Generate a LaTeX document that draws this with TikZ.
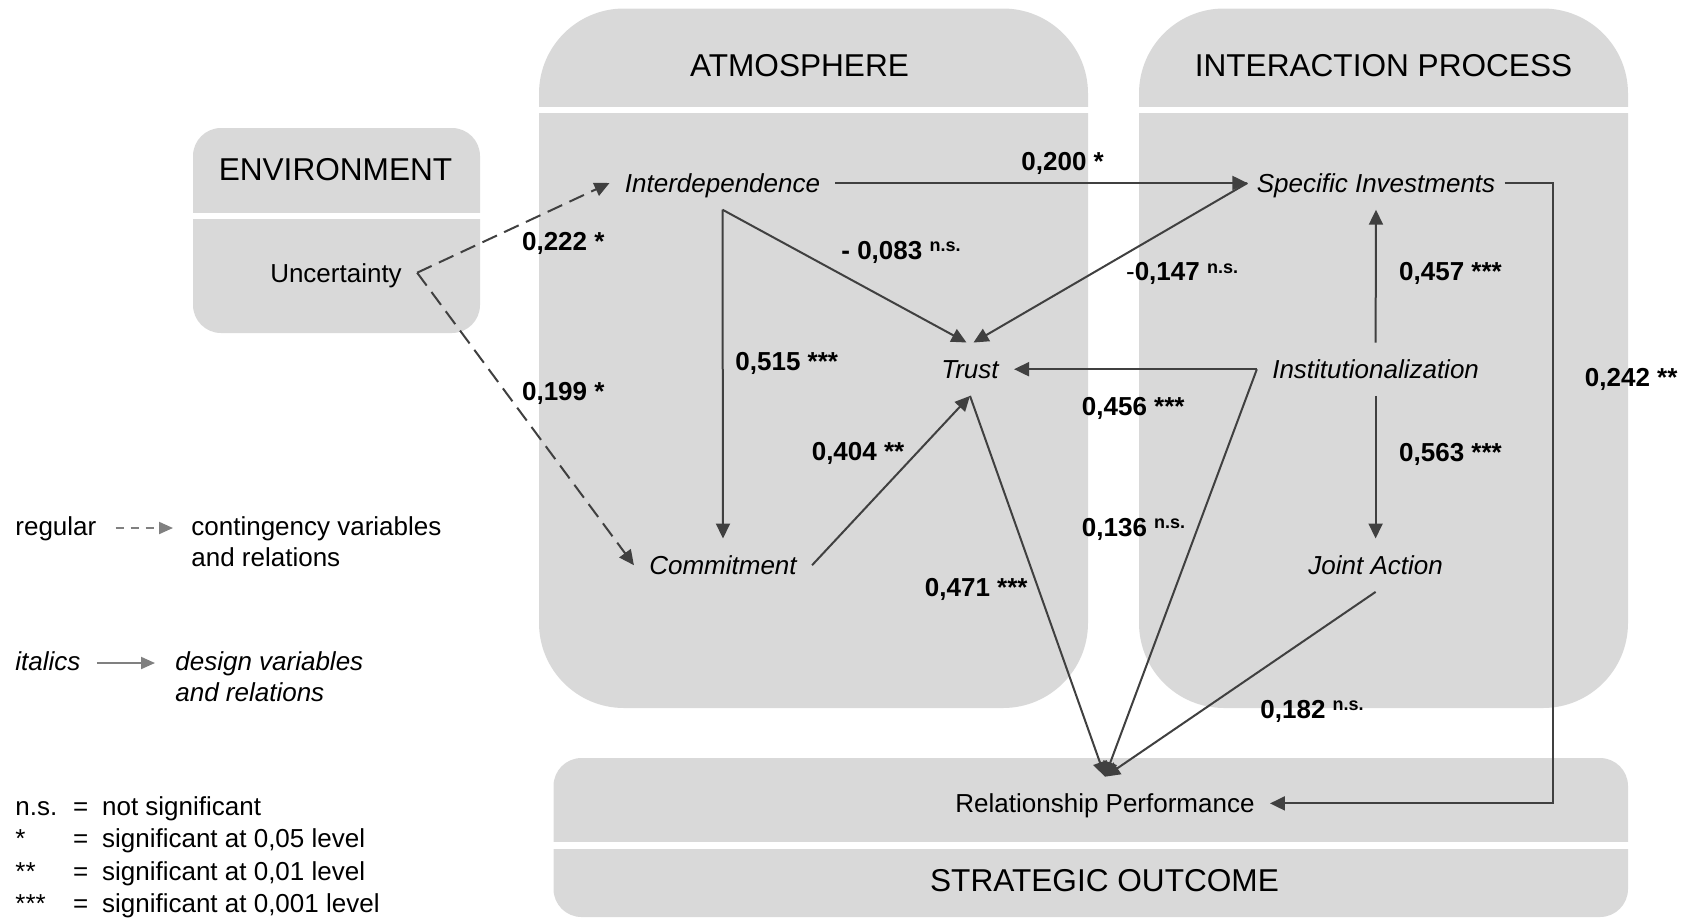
\documentclass[tikz,border=0pt]{standalone}
\usepackage{fontspec}
\usepackage{graphicx}
\setmainfont{Liberation Sans}
\usetikzlibrary{arrows.meta,calc}

\definecolor{panelgray}{RGB}{217,217,217}
\definecolor{linkgray}{RGB}{64,64,64}
\definecolor{keygray}{RGB}{128,128,128}

% raised "n.s." after a path coefficient
\newcommand{\nsig}{\raisebox{3.8pt}{\fontsize{9}{9}\selectfont n.s.}}

\tikzset{
  varnode/.style={font=\itshape\fontsize{13}{15}\selectfont, text height=9.3pt,
    text depth=0pt, inner xsep=7.5pt, inner ysep=8.5pt, anchor=base},
  plainnode/.style={varnode, font=\fontsize{13}{15}\selectfont},
  headtext/.style={font=\fontsize{15.8}{18}\selectfont, inner sep=0pt, anchor=base},
  coef/.style={font=\bfseries\fontsize{13}{15}\selectfont, inner sep=0pt, anchor=base west},
  legendtext/.style={font=\fontsize{13}{15}\selectfont, inner sep=0pt, anchor=base west},
  legendit/.style={legendtext, font=\itshape\fontsize{13}{15}\selectfont},
  relarrow/.style={draw=linkgray, line width=1pt, -{Triangle[length=7.5pt,width=7pt]}},
  contarrow/.style={relarrow, dash pattern=on 8pt off 4pt},
  keysolid/.style={draw=keygray, line width=1pt, -{Triangle[length=7pt,width=6pt]}},
  keydash/.style={keysolid, dash pattern=on 4pt off 3.5pt},
}

\begin{document}
\begin{tikzpicture}[x=0.5pt,y=-0.5pt]
\useasboundingbox (0,0) rectangle (1682,917);

% ---- panels ----
\fill[panelgray, rounded corners=14pt] (193,128) rectangle (480,333);
\fill[white] (188,213) rectangle (485,219);

\fill[panelgray, rounded corners=42.5pt] (539,8.5) rectangle (1088,708);
\fill[white] (535,107.3) rectangle (1092,113.3);

\fill[panelgray, rounded corners=42.5pt] (1139,8.5) rectangle (1628,708);
\fill[white] (1135,107.3) rectangle (1632,113.3);

\fill[panelgray, rounded corners=14pt] (553.5,758) rectangle (1628,917);
\fill[white] (549,842.3) rectangle (1632,849);

% ---- panel headings ----
\node[headtext] (hEnv) at (335.5,180.7) {ENVIRONMENT};
\node[headtext] (hAtm) at (799.5,76) {ATMOSPHERE};
\node[headtext] (hInt) at (1383.5,76) {INTERACTION PROCESS};
\node[headtext] (hOut) at (1104.5,891.7) {STRATEGIC OUTCOME};

% ---- variables ----
\node[plainnode] (unc) at (336,282) {Uncertainty};
\node[varnode] (idep) at (722.5,192.3) {Interdependence};
\node[varnode, inner xsep=4.5pt] (spec) at (1376,192.3) {Specific Investments};
\node[varnode] (trust) at (970,378.5) {Trust};
\node[varnode] (inst) at (1375.6,378.5) {Institutionalization};
\node[varnode] (commit) at (723,574.5) {Commitment};
\node[varnode] (joint) at (1375.6,574.5) {Joint Action};
\node[plainnode] (perf) at (1105,812.7) {Relationship Performance};

% ---- relations ----
\draw[contarrow] (unc.east) -- (idep.west);
\draw[contarrow] (unc.east) -- (commit.west);
\draw[relarrow] (idep.east) -- (spec.west);
\draw[relarrow] (idep.south) -- ([xshift=-1.75pt]trust.north);
\draw[relarrow] (idep.south) -- (commit.north);
\draw[relarrow] (spec.west) -- ([xshift=1.75pt]trust.north);
\draw[relarrow] (inst.west) -- (trust.east);
\draw[relarrow] (commit.east) -- (trust.south);
\draw[relarrow] (trust.south) -- (perf.north);
\draw[relarrow] (inst.west) -- (perf.north);
\draw[relarrow] (joint.south) -- (perf.north);
\draw[relarrow] (inst.north) -- (spec.south);
\draw[relarrow] (inst.south) -- (joint.north);
\coordinate (rail) at (1553,182);
\draw[relarrow] (spec.east) -| (rail |- perf.east) -- (perf.east);

% ---- path coefficients ----
\node[coef] (c1) at (521.7,250) {0,222 *};
\node[coef] (c2) at (521.7,400.7) {0,199 *};
\node[coef] (c3) at (1021,170.5) {0,200 *};
\node[coef] (c4) at (841,259.3) {- 0,083 \nsig};
\node[coef] (c5) at (1125.7,280.7) {{\mdseries -}0,147 \nsig};
\node[coef] (c6) at (735,370.7) {0,515 ***};
\node[coef] (c7) at (1081.5,415) {0,456 ***};
\node[coef] (c8) at (811.4,460.7) {0,404 **};
\node[coef] (c9) at (924.5,596) {0,471 ***};
\node[coef] (c10) at (1081.5,536) {0,136 \nsig};
\node[coef] (c11) at (1398.8,280.7) {0,457 ***};
\node[coef] (c12) at (1398.8,461) {0,563 ***};
\node[coef] (c13) at (1584.5,386) {0,242 **};
\node[coef] (c14) at (1260,718) {0,182 \nsig};

% ---- legend ----
\node[legendtext] (kReg) at (15,535) {regular};
\node[legendtext] (kCont) at (191,535) {contingency variables};
\node[legendtext] (kCont2) at (191,566.7) {and relations};
\draw[keydash] ($(kReg.base east)+(19,-7)$) -- ($(kCont.base west)+(-18,-7)$);

\node[legendit] (kIt) at (15,670) {italics};
\node[legendit] (kDes) at (175,670) {design variables};
\node[legendit] (kDes2) at (175,701.7) {and relations};
\draw[keysolid] ($(kIt.base east)+(16,-7)$) -- ($(kDes.base west)+(-20,-7)$);

\node[legendtext] (s0) at (15,815) {n.s.};
\node[legendtext] (e0) at (72.7,815) {=};
\node[legendtext] (t0) at (101.7,815) {not significant};
\node[legendtext] (s1) at (15,847.5) {*};
\node[legendtext] (e1) at (72.7,847.5) {=};
\node[legendtext] (t1) at (101.7,847.5) {significant at 0,05 level};
\node[legendtext] (s2) at (15,880) {**};
\node[legendtext] (e2) at (72.7,880) {=};
\node[legendtext] (t2) at (101.7,880) {significant at 0,01 level};
\node[legendtext] (s3) at (15,912.5) {***};
\node[legendtext] (e3) at (72.7,912.5) {=};
\node[legendtext] (t3) at (101.7,912.5) {significant at 0,001 level};
\end{tikzpicture}
\end{document}
